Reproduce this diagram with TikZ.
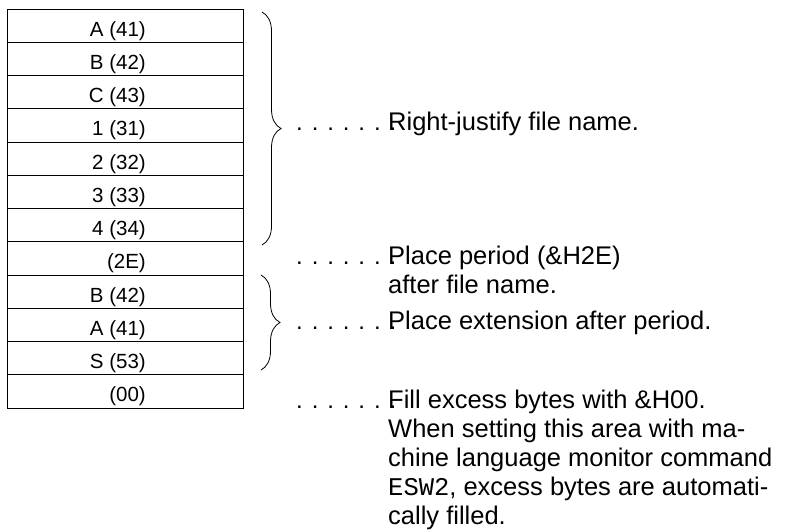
\documentclass[tikz,border=0pt]{standalone}
\usepackage{fontspec}
\setmainfont{Liberation Sans}
\setmonofont{Liberation Mono}
\usetikzlibrary{decorations.pathreplacing}
\begin{document}
\begin{tikzpicture}[x=1pt,y=-1pt,
	cell/.style={anchor=base east,inner sep=0pt,font=\fontsize{20.5}{24}\selectfont},
	note/.style={anchor=base west,inner sep=0pt,align=left,font=\fontsize{25.5}{29}\selectfont},
	leader/.style={anchor=base west,inner sep=0pt,font=\fontsize{24}{29}\selectfont},
	grp/.style={decorate,decoration={brace,amplitude=19pt},line width=0.8pt}]
	\useasboundingbox (0,0) rectangle (799,531);
	\foreach \lbl [count=\i from 0] in {A (41),B (42),C (43),1 (31),2 (32),3 (33),4 (34),(2E),B (42),A (41),S (53),(00)} {
		\draw[line width=0.8pt] (7,{9+33.25*\i}) rectangle (243,{9+33.25*(\i+1)});
		\node[cell] (c\i) at (146,{36+33.25*\i}) {\lbl};
	}
	\coordinate (g1top) at (262,12);
	\coordinate (g1bot) at (262,245);
	\coordinate (g2top) at (261,275);
	\coordinate (g2bot) at (261,370);
	\draw[grp] (g1top) -- (g1bot);
	\draw[grp] (g2top) -- (g2bot);
	% last-line baselines for the multi-line notes
	\node[leader] (d1) at (296,130) {. . . . . . .};
	\node[note] (t1) at (388,130) {Right-justify file name.};
	\node[leader] (d2) at (296,264) {. . . . . . .};
	\node[note] (t2) at (388,293) {Place period (\&H2E)\\after file name.};
	\node[leader] (d3) at (296,329) {. . . . . . .};
	\node[note] (t3) at (388,329) {Place extension after period.};
	\node[leader] (d4) at (296,408) {. . . . . . .};
	\node[note] (t4) at (388,524) {Fill excess bytes with \&H00.\\When setting this area with ma-\\chine language monitor command\\\texttt{ESW2}, excess bytes are automati-\\cally filled.};
\end{tikzpicture}
\end{document}
